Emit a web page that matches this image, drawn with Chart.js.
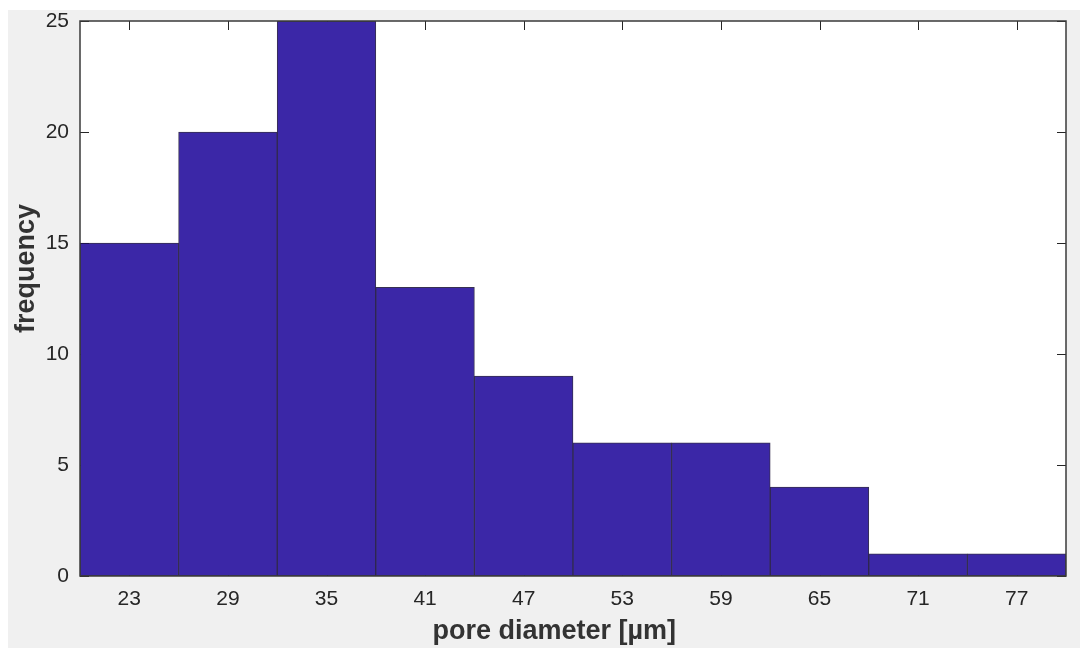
<!DOCTYPE html>
<html>
<head>
<meta charset="utf-8">
<script src="https://cdn.jsdelivr.net/npm/chart.js@4/dist/chart.umd.min.js"></script>
<style>
  html, body { margin: 0; padding: 0; background: #ffffff; }
  #frame {
    position: absolute; left: 8px; top: 10px;
    width: 1072px; height: 638px;
    background: #f0f0f0;
  }
</style>
</head>
<body>
<div id="frame"><canvas id="hist"></canvas></div>
<script>
// bin centres of the pore diameter histogram (bin width 6 µm, 20..80)
const binCenters = ['23', '29', '35', '41', '47', '53', '59', '65', '71', '77'];
const frequency = [15, 20, 25, 13, 9, 6, 6, 4, 1, 1];
const yTicks = [0, 5, 10, 15, 20, 25];

const axisColor = '#262626';
const barFill = '#3b27a7';
const font = 'Liberation Sans, Arial, Helvetica, sans-serif';

// matlab-like box: inward tick marks under the bars, axis box on top
const matlabAxes = {
  id: 'matlabAxes',
  beforeDatasetsDraw(chart) {
    const { ctx, chartArea: a, scales: { x, y } } = chart;
    const len = 9;
    ctx.save();
    ctx.strokeStyle = axisColor;
    ctx.lineWidth = 1;
    ctx.beginPath();
    binCenters.forEach((c, i) => {
      const px = Math.round(x.getPixelForTick(i)) + 0.5;
      ctx.moveTo(px, a.top); ctx.lineTo(px, a.top + len);
      ctx.moveTo(px, a.bottom); ctx.lineTo(px, a.bottom - len);
    });
    yTicks.forEach(v => {
      const py = Math.round(y.getPixelForValue(v)) + 0.5;
      ctx.moveTo(a.left, py); ctx.lineTo(a.left + len, py);
      ctx.moveTo(a.right, py); ctx.lineTo(a.right - len, py);
    });
    ctx.stroke();
    ctx.restore();
  },
  afterDatasetsDraw(chart) {
    const { ctx, chartArea: a } = chart;
    ctx.save();
    ctx.strokeStyle = '#3a3a3a';
    ctx.lineWidth = 1.5;
    ctx.strokeRect(a.left, a.top, a.right - a.left, a.bottom - a.top);
    ctx.restore();
  }
};

const whitePlot = {
  id: 'whitePlot',
  beforeDraw(chart) {
    const { ctx, chartArea: a } = chart;
    ctx.save();
    ctx.fillStyle = '#ffffff';
    ctx.fillRect(a.left, a.top, a.right - a.left, a.bottom - a.top);
    ctx.restore();
  }
};

// the original labels sit a little off-centre; padding spaces nudge them
const xTitle = 'pore diameter [µm]' + '     ';
const yTitle = '        ' + 'frequency';

new Chart(document.getElementById('hist').getContext('2d'), {
  type: 'bar',
  data: {
    labels: binCenters,
    datasets: [{
      data: frequency,
      backgroundColor: barFill,
      borderColor: 'rgba(20, 12, 50, 0.85)',
      borderWidth: 1,
      borderSkipped: false,
      barPercentage: 1,
      categoryPercentage: 1
    }]
  },
  options: {
    responsive: true,
    maintainAspectRatio: false,
    animation: false,
    layout: { padding: { top: 11, right: 14, left: 0, bottom: 0 } },
    plugins: { legend: { display: false }, tooltip: { enabled: false } },
    scales: {
      x: {
        offset: true,
        grid: { display: false, drawTicks: false },
        border: { display: false },
        ticks: { color: axisColor, padding: 11, font: { family: font, size: 21 } },
        title: {
          display: true,
          text: xTitle,
          color: '#333333',
          padding: { top: 0, bottom: 0 },
          font: { family: font, size: 27, weight: 'bold' }
        },
        afterFit(scale) {
          scale.height = 72;
          scale.paddingLeft = 0;
          scale.paddingRight = 0;
        }
      },
      y: {
        min: 0,
        max: 25,
        grid: { display: false, drawTicks: false },
        border: { display: false },
        ticks: {
          stepSize: 5,
          color: axisColor,
          padding: 11,
          font: { family: font, size: 21 }
        },
        title: {
          display: true,
          text: yTitle,
          color: '#333333',
          padding: { top: 2, bottom: 0 },
          font: { family: font, size: 27, weight: 'bold' }
        },
        afterFit(scale) {
          scale.width = 72;
          scale.paddingTop = 0;
          scale.paddingBottom = 0;
        }
      }
    }
  },
  plugins: [whitePlot, matlabAxes]
});
</script>
</body>
</html>
